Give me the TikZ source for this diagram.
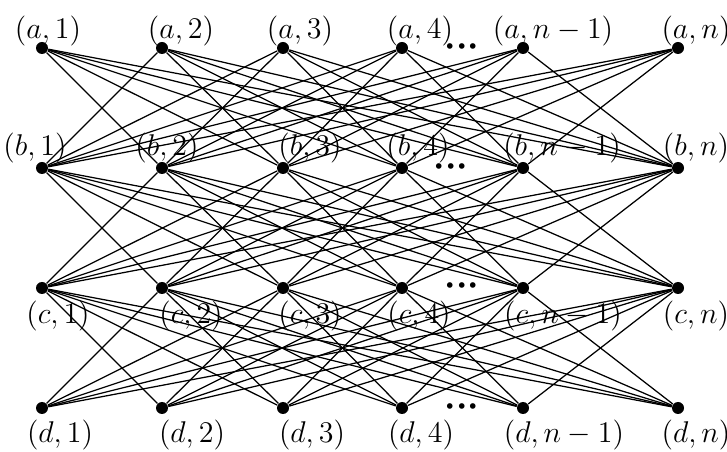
\documentclass[tikz,border=0pt]{standalone}
\usepackage{amsmath}
\begin{document}
\begin{tikzpicture}[x=0.4pt,y=-0.4pt,
  vtx/.style={circle,fill=black,inner sep=0pt,minimum size=4.8pt},
  lbl/.style={inner sep=0pt,font=\large},
  edge/.style={line width=0.5pt},
  dotsnode/.style={inner sep=0pt,font=\Large}]
\useasboundingbox (0,0) rectangle (727,452);
% vertices
\foreach \r/\y in {a/48,b/168,c/288,d/408}{
  \foreach \i/\x in {1/42,2/162,3/283,4/402,5/523,6/678}{
    \node[vtx] (\r\i) at (\x,\y) {};
  }
}
% edges between consecutive rows, all i != j
\foreach \r/\s in {a/b,b/c,c/d}{
  \foreach \i in {1,...,6}{
    \foreach \j in {1,...,6}{
      \ifnum\i=\j\else
        \draw[edge] (\r\i) -- (\s\j);
      \fi
    }
  }
}
% labels
\node[lbl] (la1) at (48,31) {$(a,1)$};
\node[lbl] (la2) at (181,31) {$(a,2)$};
\node[lbl] (la3) at (300,31) {$(a,3)$};
\node[lbl] (la4) at (420,31) {$(a,4)$};
\node[lbl] (la5) at (553,31) {$(a,n-1)$};
\node[lbl] (la6) at (696,31) {$(a,n)$};
\node[lbl] (lb1) at (35,148) {$(b,1)$};
\node[lbl] (lb2) at (167,148) {$(b,2)$};
\node[lbl] (lb3) at (310,148) {$(b,3)$};
\node[lbl] (lb4) at (418,148) {$(b,4)$};
\node[lbl] (lb5) at (562,148) {$(b,n-1)$};
\node[lbl] (lb6) at (696,148) {$(b,n)$};
\node[lbl] (lc1) at (58,316) {$(c,1)$};
\node[lbl] (lc2) at (191,316) {$(c,2)$};
\node[lbl] (lc3) at (310,316) {$(c,3)$};
\node[lbl] (lc4) at (419,316) {$(c,4)$};
\node[lbl] (lc5) at (563,316) {$(c,n-1)$};
\node[lbl] (lc6) at (696,316) {$(c,n)$};
\node[lbl] (ld1) at (60,435) {$(d,1)$};
\node[lbl] (ld2) at (192,435) {$(d,2)$};
\node[lbl] (ld3) at (312,435) {$(d,3)$};
\node[lbl] (ld4) at (421,435) {$(d,4)$};
\node[lbl] (ld5) at (564,435) {$(d,n-1)$};
\node[lbl] (ld6) at (696,435) {$(d,n)$};
% dots
\node[dotsnode] (da) at (462,47) {$\boldsymbol{{\cdot}{\cdot}{\cdot}}$};
\node[dotsnode] (db) at (451,167) {$\boldsymbol{{\cdot}{\cdot}{\cdot}}$};
\node[dotsnode] (dc) at (462,286) {$\boldsymbol{{\cdot}{\cdot}{\cdot}}$};
\node[dotsnode] (dd) at (462,407) {$\boldsymbol{{\cdot}{\cdot}{\cdot}}$};
\end{tikzpicture}
\end{document}
